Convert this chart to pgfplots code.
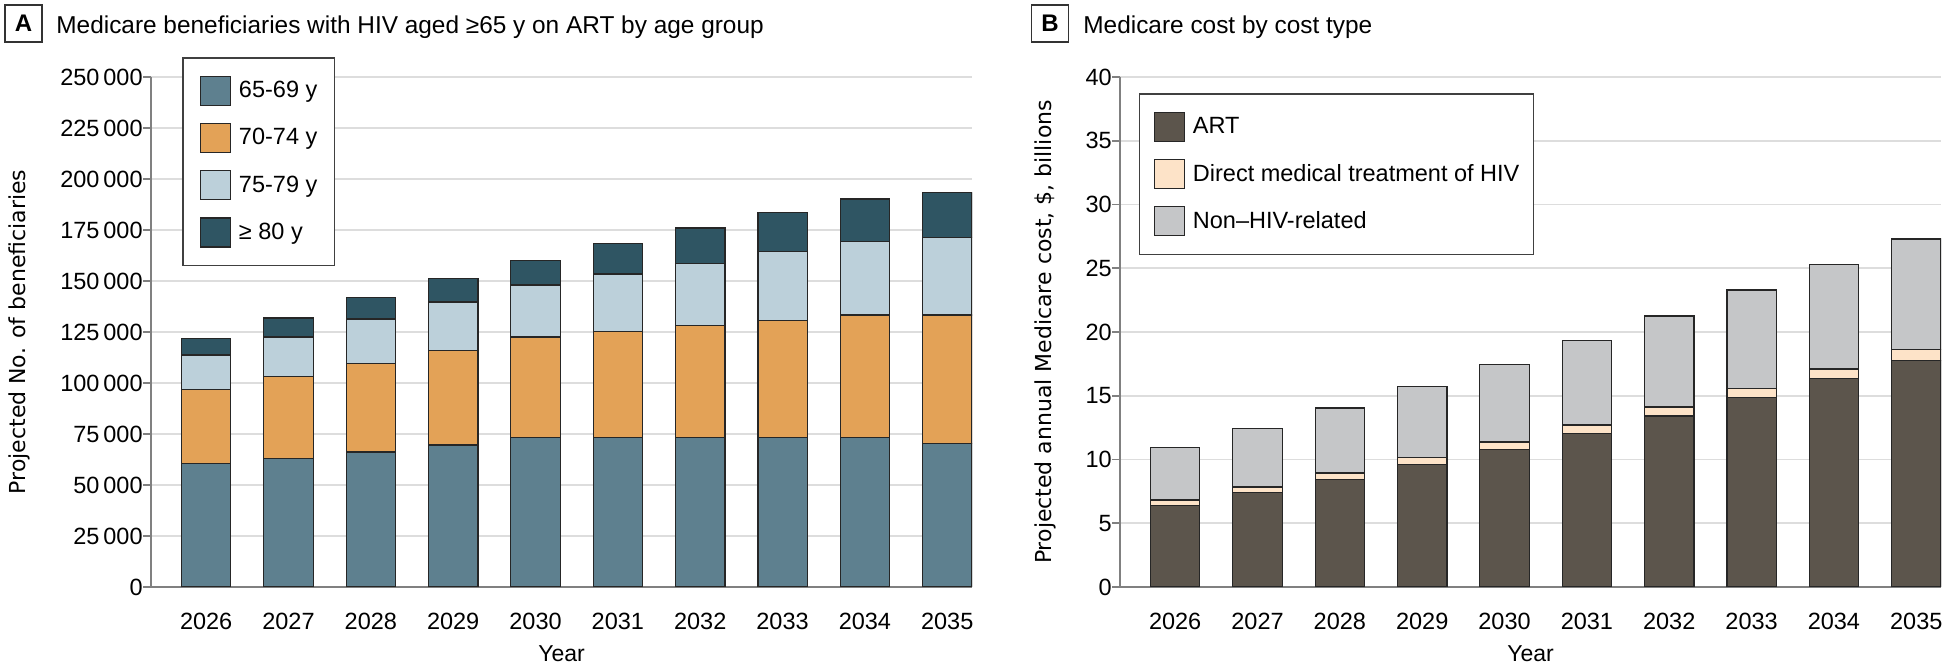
\documentclass[border=0pt]{standalone}
\usepackage{fontspec}
\setmainfont{Liberation Sans}
\newfontfamily\labfont{DejaVu Sans}
\usepackage{pgfplots}
\usepackage{pgfplotstable}
\pgfplotsset{compat=1.18}

\definecolor{cA}{RGB}{94,128,143}
\definecolor{cB}{RGB}{227,162,87}
\definecolor{cC}{RGB}{188,208,218}
\definecolor{cD}{RGB}{47,85,99}
\definecolor{cART}{RGB}{92,85,76}
\definecolor{cDir}{RGB}{253,227,200}
\definecolor{cNon}{RGB}{197,198,200}
\definecolor{gridc}{RGB}{221,221,221}
\definecolor{axc}{RGB}{128,128,128}

\pgfplotstableread{
year a b c d
2026 60500 36200 17000 8200
2027 63000 40000 19500 9400
2028 66200 43300 21900 10400
2029 69600 46300 23800 11400
2030 73200 49300 25500 12100
2031 73300 52000 28100 14800
2032 73300 54800 30600 17300
2033 73300 57200 33800 19100
2034 73300 60000 36000 20900
2035 70400 62900 38200 22000
}\tblA

\pgfplotstableread{
year art dir non
2026 6.40 0.42 4.11
2027 7.40 0.44 4.60
2028 8.44 0.50 5.10
2029 9.59 0.55 5.58
2030 10.77 0.60 6.11
2031 12.05 0.65 6.62
2032 13.41 0.70 7.14
2033 14.85 0.73 7.71
2034 16.34 0.75 8.21
2035 17.77 0.87 8.65
}\tblB

\pgfplotsset{
 common/.style={
  scale only axis, width=410.5pt, height=255pt,
  axis x line*=bottom, axis y line*=left,
  axis line style={draw=axc, line width=1pt},
  xmin=2025.33, xmax=2035.3,
  xtick={2026,...,2035},
  ymajorgrids, grid style={draw=gridc, line width=0.9pt},
  tick align=outside, major tick length=4pt,
  major tick style={draw=axc, line width=0.8pt},
  major x tick style={draw=none},
  ticklabel style={font=\fontsize{11.75}{14}\selectfont},
  /pgf/number format/assume math mode=true,
  x tick label style={/pgf/number format/fixed, /pgf/number format/1000 sep={}, anchor=north, inner sep=0pt, yshift=-9pt},
  y tick label style={/pgf/number format/fixed, /pgf/number format/precision=0, /pgf/number format/1000 sep={\thinspace}, anchor=east, inner sep=0pt},
  scaled y ticks=false,
  xlabel={Year},
  xlabel style={font=\fontsize{11.5}{14}\selectfont, at={(axis description cs:0.5,0)}, anchor=base, inner sep=0pt, yshift=-37.5pt},
  ylabel style={font=\labfont\fontsize{11}{13}\selectfont, anchor=center},
  ybar stacked, bar width=0.6,
  legend cell align=left,
  legend style={draw=black!75, line width=0.75pt, font=\fontsize{11.75}{14}\selectfont,
    inner xsep=8pt, inner ysep=9pt, row sep=8.5pt, column sep=4pt,
    nodes={inner sep=0pt}},
 },
 barleg/.style={legend image code/.code={\draw[##1, line width=0.6pt] (0pt,-7.25pt) rectangle (15pt,7.25pt);}},
 bars/.style={fill=#1, draw=black!85, line width=0.6pt, barleg},
}

\begin{document}
\begin{tikzpicture}
\useasboundingbox (0,0) rectangle (973.5pt,334pt);

\node[draw=black!80, line width=0.75pt, minimum size=18.5pt, inner sep=0pt, font=\bfseries\fontsize{12}{14}\selectfont] at (11.75pt,322.25pt) {A};
\node[anchor=base west, inner sep=0pt, font=\fontsize{12.2}{14}\selectfont] at (28pt,317.35pt) {Medicare beneficiaries with HIV aged ≥65 y on ART by age group};

\node[draw=black!80, line width=0.75pt, minimum size=18.5pt, inner sep=0pt, font=\bfseries\fontsize{12}{14}\selectfont] at (525pt,322.25pt) {B};
\node[anchor=base west, inner sep=0pt, font=\fontsize{12.2}{14}\selectfont] at (541.5pt,317.35pt) {Medicare cost by cost type};

\begin{axis}[common, at={(75.5pt,40.5pt)}, anchor=south west,
  ymin=0, ymax=250000, ytick={0,25000,...,250000},
  ylabel={Projected No. of beneficiaries},
  ylabel style={at={(axis description cs:-0.1608,0.5)}},
  legend style={at={(0.0378,1.039)}, anchor=north west, inner xsep=8.5pt}]
\addplot[bars=cA] table[x=year,y=a]{\tblA};
\addplot[bars=cB] table[x=year,y=b]{\tblA};
\addplot[bars=cC] table[x=year,y=c]{\tblA};
\addplot[bars=cD] table[x=year,y=d]{\tblA};
\legend{65-69 y, 70-74 y, 75-79 y, ≥ 80 y}
\end{axis}

\begin{axis}[common, at={(560pt,40.5pt)}, anchor=south west,
  ymin=0, ymax=40, ytick={0,5,...,40},
  ylabel={Projected annual Medicare cost, \$, billions},
  ylabel style={at={(axis description cs:-0.0914,0.5)}},
  legend style={at={(0.0231,0.9686)}, anchor=north west, inner xsep=7pt}]
\addplot[bars=cART] table[x=year,y=art]{\tblB};
\addplot[bars=cDir] table[x=year,y=dir]{\tblB};
\addplot[bars=cNon] table[x=year,y=non]{\tblB};
\legend{ART, Direct medical treatment of HIV, Non–HIV-related}
\end{axis}
\end{tikzpicture}
\end{document}
